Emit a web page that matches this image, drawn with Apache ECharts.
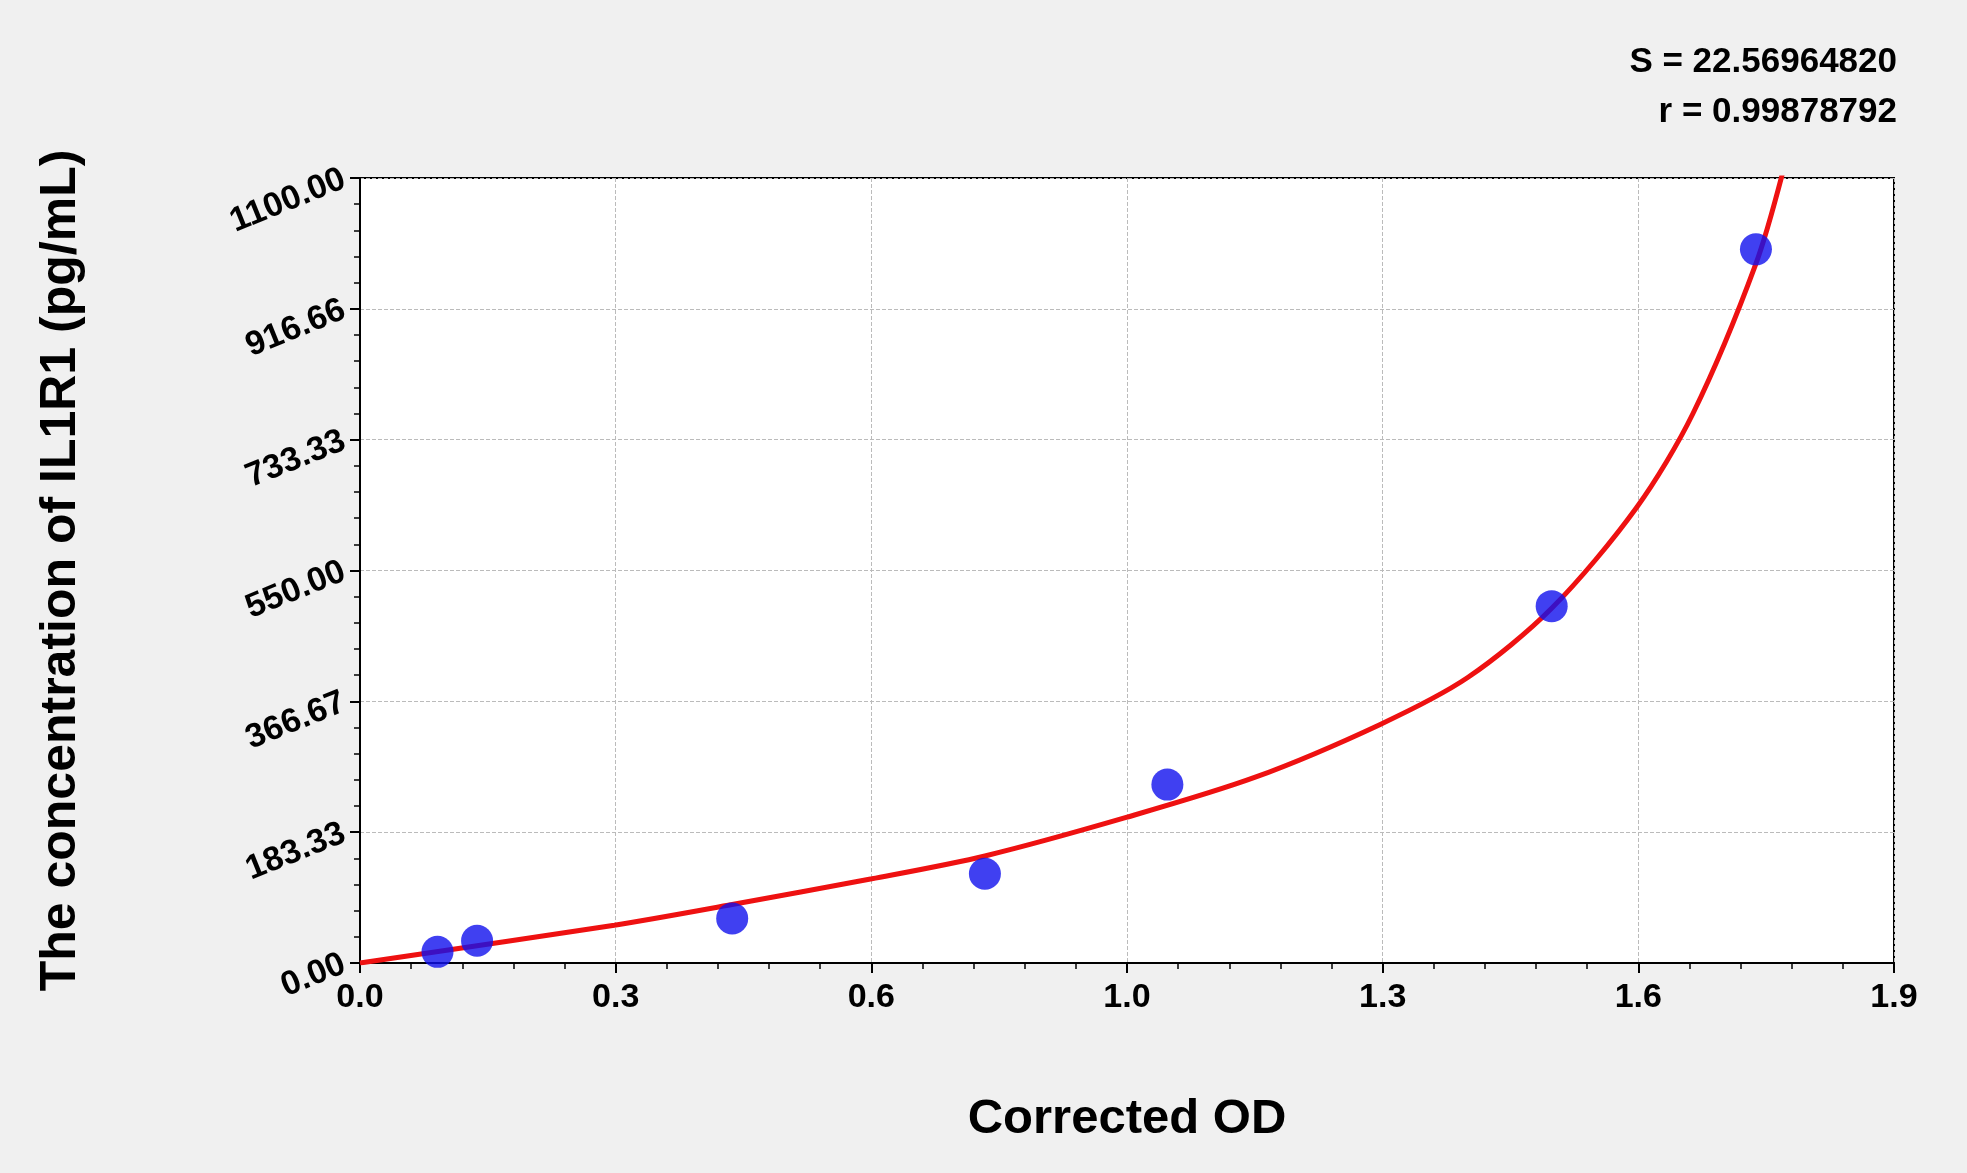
<!DOCTYPE html>
<html>
<head>
<meta charset="utf-8">
<script src="https://cdn.jsdelivr.net/npm/echarts@6/dist/echarts.min.js"></script>
<style>html,body{margin:0;padding:0;background:#f0f0f0;}#chart{width:1967px;height:1173px;}</style>
</head>
<body>
<div id="chart"></div>
<script>
var yTickLabels = ['0.00', '183.33', '366.67', '550.00', '733.33', '916.66', '1100.00'];
var xTickLabels = ['0.0', '0.3', '0.6', '1.0', '1.3', '1.6', '1.9'];
var pointOD = [0.096, 0.145, 0.461, 0.774, 1.0, 1.476, 1.729];
var pointConc = [15.6, 31.25, 62.5, 125, 250, 500, 1000];
var curveOD = [0, 0.315, 0.461, 0.634, 0.774, 0.949, 1.108, 1.263, 1.372, 1.476, 1.581, 1.651, 1.729, 1.765];
var curveConc = [0, 53, 82, 118, 150, 204, 260, 334, 400, 497, 638, 770, 980, 1120];

var font = 'Arial, "Liberation Sans", sans-serif';
var chart = echarts.init(document.getElementById('chart'));
chart.setOption({
  backgroundColor: '#f0f0f0',
  animation: false,
  grid: {left: 360, right: 73, top: 178, bottom: 210, show: true, backgroundColor: '#fff', borderColor: '#000', borderWidth: 2},
  graphic: [
    {type: 'text', right: 70, top: 45, style: {text: 'S = 22.56964820', font: 'bold 35px ' + font, fill: '#000', align: 'right'}},
    {type: 'text', right: 70, top: 95, style: {text: 'r = 0.99878792', font: 'bold 35px ' + font, fill: '#000', align: 'right'}}
  ],
  xAxis: {
    type: 'value', min: 0, max: 1.9, interval: 1.9 / 6,
    name: 'Corrected OD', nameLocation: 'middle', nameGap: 132,
    nameTextStyle: {fontSize: 49, fontWeight: 'bold', fontFamily: font, color: '#000'},
    axisLine: {onZero: false, lineStyle: {color: '#000', width: 2}},
    axisTick: {show: true, length: 10, lineStyle: {color: '#000', width: 2}},
    minorTick: {show: true, splitNumber: 5, length: 6, lineStyle: {color: '#000', width: 1.5}},
    axisLabel: {fontSize: 34, fontWeight: 'bold', fontFamily: font, color: '#000', margin: 18,
      formatter: function (v) { return xTickLabels[Math.round(v / (1.9 / 6))]; }},
    splitLine: {show: true, lineStyle: {color: '#bbb', type: 'dashed', width: 1}}
  },
  yAxis: {
    type: 'value', min: 0, max: 1100, interval: 1100 / 6,
    name: 'The concentration of IL1R1 (pg/mL)', nameLocation: 'middle', nameGap: 274,
    nameTextStyle: {fontSize: 50, fontWeight: 'bold', fontFamily: font, color: '#000'},
    axisLine: {onZero: false, lineStyle: {color: '#000', width: 2}},
    axisTick: {show: true, length: 10, lineStyle: {color: '#000', width: 2}},
    minorTick: {show: true, splitNumber: 5, length: 6, lineStyle: {color: '#000', width: 1.5}},
    axisLabel: {fontSize: 34, fontWeight: 'bold', fontFamily: font, color: '#000', rotate: 22, margin: 16,
      formatter: function (v) { return yTickLabels[Math.round(v / (1100 / 6))]; }},
    splitLine: {show: true, lineStyle: {color: '#bbb', type: 'dashed', width: 1}}
  },
  series: [
    {type: 'line', smooth: 0.3, showSymbol: false, clip: true,
      lineStyle: {color: '#ee1111', width: 5},
      data: curveOD.map(function (x, i) { return [x, curveConc[i]]; }), z: 2},
    {type: 'scatter', symbolSize: 32, itemStyle: {color: '#1010ee'},
      data: pointOD.map(function (x, i) { return [x, pointConc[i]]; }), z: 3}
  ]
});
</script>
</body>
</html>
